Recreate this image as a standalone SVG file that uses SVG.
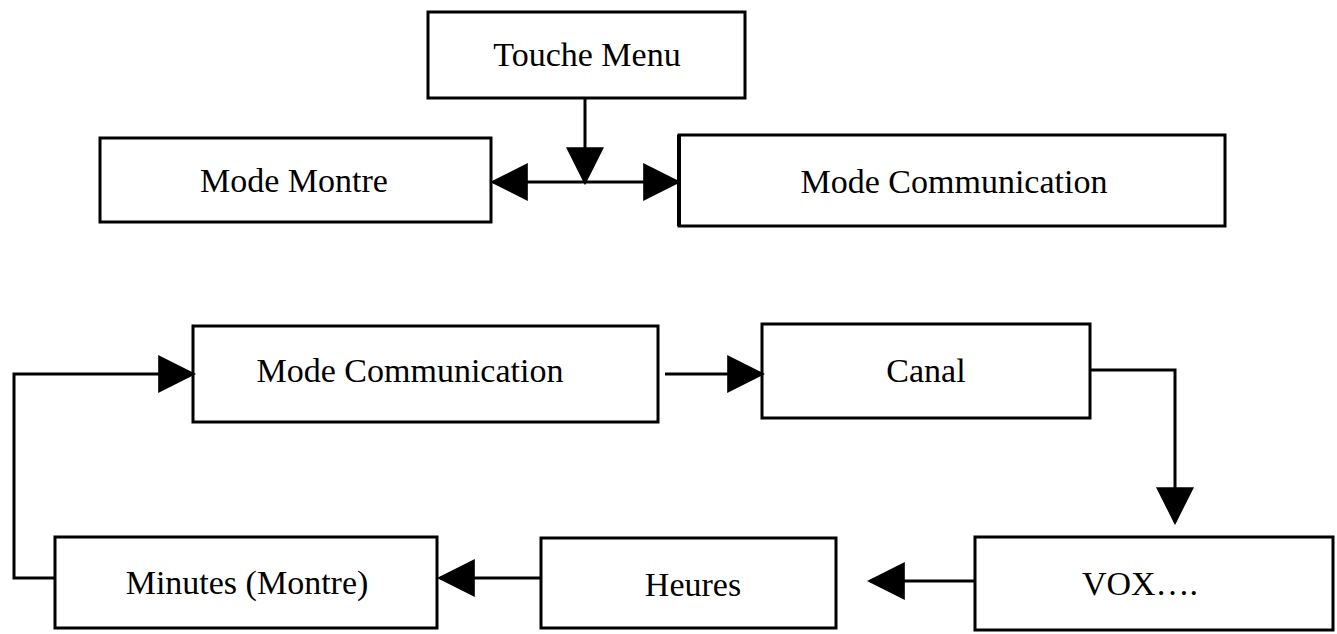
<svg xmlns="http://www.w3.org/2000/svg" width="1337" height="634" viewBox="0 0 1337 634">
<style>
.b{fill:#fff;stroke:#000;stroke-width:3}
.t{font-family:"Liberation Serif",serif;font-size:34px;text-anchor:middle;fill:#000}
.c{fill:none;stroke:#000;stroke-width:3}
</style>
<defs><marker id="a" markerWidth="12" markerHeight="12" refX="11" refY="6" orient="auto" markerUnits="userSpaceOnUse" viewBox="0 0 12 12"><path d="M0,0L12,6L0,12Z"/></marker>
<marker id="A" viewBox="0 0 12 12" refX="11" refY="6" markerWidth="38" markerHeight="38" orient="auto-start-reverse" markerUnits="userSpaceOnUse"><path d="M0,0L12,6L0,12Z"/></marker></defs>
<rect width="1337" height="634" fill="#fff"/>
<g id="touche"><rect class="b" x="428" y="12" width="317" height="86"/><text class="t" x="587" y="66">Touche Menu</text></g>
<g id="montre"><rect class="b" x="100" y="138" width="391" height="84"/><text class="t" x="294" y="192">Mode Montre</text></g>
<g id="comm1"><rect class="b" x="679" y="135" width="546" height="91"/><line x1="679" y1="135" x2="679" y2="226" stroke="#000" stroke-width="4"/><text class="t" x="954" y="193">Mode Communication</text></g>
<g id="comm2"><rect class="b" x="193" y="326" width="465" height="96"/><text class="t" x="410" y="382">Mode Communication</text></g>
<g id="canal"><rect class="b" x="762" y="324" width="328" height="94"/><text class="t" x="926" y="382">Canal</text></g>
<g id="vox"><rect class="b" x="975" y="537" width="358" height="93"/><text class="t" x="1140" y="595">VOX….</text></g>
<g id="heures"><rect class="b" x="541" y="538" width="295" height="90"/><text class="t" x="693" y="596">Heures</text></g>
<g id="minutes"><rect class="b" x="55" y="537" width="382" height="91"/><text class="t" x="247" y="594">Minutes (Montre)</text></g>
<g id="connectors">
<line class="c" x1="585" y1="98" x2="585" y2="182" marker-end="url(#A)"/>
<line class="c" x1="493" y1="182" x2="678" y2="182" marker-start="url(#A)" marker-end="url(#A)"/>
<line class="c" x1="665" y1="374" x2="762" y2="374" marker-end="url(#A)"/>
<polyline class="c" points="1090,370 1175,370 1175,522" marker-end="url(#A)"/>
<line class="c" x1="975" y1="581" x2="870" y2="581" marker-end="url(#A)"/>
<line class="c" x1="541" y1="578" x2="440" y2="578" marker-end="url(#A)"/>
<polyline class="c" points="55,578 14,578 14,374 193,374" marker-end="url(#A)"/>
</g>
</svg>
